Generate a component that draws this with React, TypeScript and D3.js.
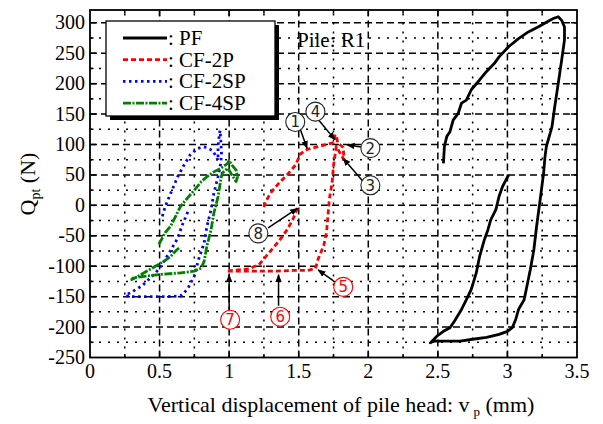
import React from 'react';
import * as d3 from 'd3';

const W = 603;
const H = 424;

// ---- data ----
const xTicks = [0, 0.5, 1, 1.5, 2, 2.5, 3, 3.5];
const xTickLabels = ['0', '0.5', '1', '1.5', '2', '2.5', '3', '3.5'];
const yTicks = [300, 250, 200, 150, 100, 50, 0, -50, -100, -150, -200, -250];

const seriesNames = ['PF', 'CF-2P', 'CF-2SP', 'CF-4SP'];

const pfData: [number, number][] = [
  [2.54, 69], [2.547, 97], [2.564, 113], [2.587, 121], [2.61, 140], [2.646, 151], [2.67, 168],
  [2.705, 173], [2.74, 190], [2.8, 206], [2.85, 220], [2.905, 233], [2.94, 244], [3.01, 261],
  [3.08, 274], [3.15, 285], [3.22, 293], [3.29, 302], [3.33, 307], [3.365, 310], [3.39, 304],
  [3.41, 293], [3.41, 272], [3.4, 255], [3.39, 239], [3.365, 200], [3.34, 162], [3.32, 129],
  [3.28, 97], [3.27, 80], [3.26, 53], [3.235, 9], [3.21, -34], [3.19, -73], [3.165, -105],
  [3.14, -133], [3.12, -155], [3.08, -171], [3.06, -187], [3.035, -201], [3.0, -207],
  [2.94, -212], [2.85, -217], [2.75, -220], [2.66, -223], [2.56, -223], [2.47, -223],
  [2.446, -226], [2.493, -215], [2.54, -207], [2.587, -201], [2.62, -190], [2.67, -171],
  [2.705, -155], [2.74, -138], [2.776, -111], [2.8, -84], [2.835, -56], [2.86, -40],
  [2.88, -24], [2.917, -7], [2.94, 15], [2.965, 31], [2.99, 42], [3.01, 50],
];

const cf2pData: [number, number][] = [
  [1.25, -3], [1.26, 5], [1.3, 21], [1.36, 37], [1.42, 51], [1.48, 67], [1.51, 84], [1.56, 92],
  [1.63, 96], [1.7, 100], [1.75, 103], [1.76, 114], [1.77, 116], [1.78, 103], [1.82, 95],
  [1.825, 75], [1.77, 97], [1.75, 65], [1.74, 37], [1.72, 10], [1.71, -17], [1.7, -44],
  [1.68, -66], [1.64, -88], [1.62, -104], [1.56, -107], [1.46, -107], [1.34, -108],
  [1.22, -108], [1.08, -108], [0.98, -108], [1.15, -104], [1.22, -96], [1.29, -77],
  [1.36, -58], [1.42, -39], [1.46, -22], [1.48, -11], [1.5, 0],
];

const cf2spData: [number, number][] = [
  [0.52, -18], [0.54, -2], [0.58, 20], [0.63, 47], [0.675, 66], [0.72, 83], [0.77, 93],
  [0.81, 96], [0.84, 95], [0.88, 90], [0.9, 83], [0.92, 74], [0.92, 96], [0.93, 118],
  [0.935, 123], [0.94, 107], [0.945, 85], [0.94, 69], [0.92, 47], [0.89, 20], [0.87, -7],
  [0.84, -35], [0.82, -62], [0.78, -89], [0.75, -116], [0.7, -138], [0.65, -149],
  [0.555, -150], [0.46, -150], [0.36, -150], [0.28, -150], [0.255, -148], [0.31, -141],
  [0.375, -132], [0.435, -119], [0.495, -105], [0.54, -89], [0.59, -70], [0.63, -54],
  [0.66, -34], [0.695, -15], [0.71, -7],
];

const cf4spData: [number, number][] = [
  [0.495, -64], [0.54, -45], [0.58, -34], [0.615, -18], [0.65, -2], [0.7, 12], [0.75, 25],
  [0.8, 39], [0.84, 47], [0.89, 55], [0.94, 61], [0.99, 69], [1.0, 74], [1.02, 66],
  [1.05, 58], [1.06, 47], [1.05, 39], [0.99, 61], [0.95, 53], [0.94, 42], [0.92, 14],
  [0.89, -13], [0.87, -40], [0.84, -67], [0.82, -92], [0.8, -103], [0.75, -108],
  [0.65, -111], [0.53, -113], [0.41, -116], [0.31, -119], [0.3, -122], [0.35, -116],
  [0.41, -108], [0.47, -100], [0.53, -92], [0.58, -84], [0.615, -75], [0.64, -70],
];

// annotations: label, label position, arrow from, arrow to, colour key
const annLabels = ['1', '4', '2', '3', '8', '5', '7', '6'];
const annLabelPos: [number, number][] = [
  [1.475, 137], [1.62, 154], [2.015, 94], [2.015, 33], [1.21, -46], [1.82, -134], [1.007, -188], [1.367, -183],
];
const annArrowFrom: [number, number][] = [
  [1.51, 126], [1.64, 141], [1.95, 96], [1.96, 40], [1.28, -37], [1.75, -124], [1.0, -171], [1.355, -165],
];
const annArrowTo: [number, number][] = [
  [1.56, 94], [1.76, 108], [1.85, 99], [1.82, 77], [1.49, -5], [1.64, -106], [1.0, -114], [1.355, -114],
];
const annRed = [false, false, false, false, false, true, true, true];

// ---- layout ----
const x = d3.scaleLinear().domain([0, 3.5]).range([90, 577]);
const y = d3.scaleLinear().domain([-250, 321]).range([357.5, 10]);

const SERIF = '"Liberation Serif", "Times New Roman", Times, serif';
const SANS = '"DejaVu Sans", "Noto Sans", sans-serif';

export default function App() {
  const line = d3.line<[number, number]>().x(d => x(d[0])).y(d => y(d[1]));
  const [x0, x1] = x.range();
  const [y0, y1] = y.range();

  const majorX = d3.range(0.5, 3.5, 0.5);
  const minorX = d3.range(0.25, 3.5, 0.5);
  const majorY = d3.range(-200, 301, 50);
  const minorY = d3.range(-225, 321, 50);

  const seriesData = [pfData, cf2pData, cf2spData, cf4spData];
  const seriesStyle = [
    { stroke: '#000', dash: undefined as string | undefined, w: 2.8 },
    { stroke: '#ff0000', dash: '5,3', w: 2.8 },
    { stroke: '#0000ff', dash: '2.5,3.5', w: 2.8 },
    { stroke: '#008000', dash: '8,1.5,2,1.5', w: 2.8 },
  ];
  const ts = { fontFamily: SERIF };

  return (
    <svg width={W} height={H} style={{ position: 'absolute', left: 0, top: 0, background: '#fff' }}>
      <defs>
        <marker id="ah" viewBox="0 0 10 10" refX="9" refY="5" markerWidth="8" markerHeight="8"
          orient="auto" markerUnits="userSpaceOnUse">
          <path d="M0,1 L10,5 L0,9 z" fill="#000" />
        </marker>
      </defs>
      <rect x={0} y={0} width={W} height={H} fill="#fff" />
      {/* grid */}
      <g stroke="#000" strokeWidth={1.5} fill="none">
        {minorX.map(v => <line key={'mx' + v} x1={x(v)} x2={x(v)} y1={y0} y2={y1} strokeDasharray="2,7" />)}
        {minorY.map(v => <line key={'my' + v} x1={x0} x2={x1} y1={y(v)} y2={y(v)} strokeDasharray="2,7" />)}
        {majorX.map(v => <line key={'Mx' + v} x1={x(v)} x2={x(v)} y1={y0} y2={y1} strokeDasharray="7,4" />)}
        {majorY.map(v => <line key={'My' + v} x1={x0} x2={x1} y1={y(v)} y2={y(v)} strokeDasharray="7,4" />)}
      </g>
      {/* ticks */}
      <g stroke="#000" strokeWidth={1.5}>
        {d3.range(0.25, 3.5, 0.25).map(v => {
          const L = Math.abs(v * 2 - Math.round(v * 2)) < 1e-6 ? 6 : 3.5;
          return (
            <g key={'tx' + v}>
              <line x1={x(v)} x2={x(v)} y1={y0} y2={y0 - L} />
              <line x1={x(v)} x2={x(v)} y1={y1} y2={y1 + L} />
            </g>
          );
        })}
        {d3.range(-225, 321, 25).map(v => {
          const L = v % 50 === 0 ? 6 : 3.5;
          return (
            <g key={'ty' + v}>
              <line x1={x0} x2={x0 + L} y1={y(v)} y2={y(v)} />
              <line x1={x1} x2={x1 - L} y1={y(v)} y2={y(v)} />
            </g>
          );
        })}
      </g>

      {/* series */}
      <g fill="none" strokeLinejoin="round">
        {seriesData.map((d, i) => (
          <path key={seriesNames[i]} d={line(d) || ''} stroke={seriesStyle[i].stroke}
            strokeWidth={seriesStyle[i].w} strokeDasharray={seriesStyle[i].dash} />
        ))}
      </g>

      {/* frame */}
      <rect x={x0} y={y1} width={x1 - x0} height={y0 - y1} fill="none" stroke="#000" strokeWidth={1.8} />

      {/* tick labels */}
      <g fontSize={20} fill="#000">
        {xTicks.map((v, i) => (
          <text key={'xl' + v} style={ts} x={x(v)} y={y0 + 20} textAnchor="middle">{xTickLabels[i]}</text>
        ))}
        {yTicks.map(v => (
          <text key={'yl' + v} style={ts} x={x0 - 5} y={y(v) + 6.5} textAnchor="end">{v}</text>
        ))}
      </g>

      {/* axis titles */}
      <text style={ts} x={341} y={412} fontSize={22} textAnchor="middle">
        Vertical displacement of pile head: v<tspan fontSize={13} dx={4} dy={4}>p</tspan>
        <tspan dy={-4}> (mm)</tspan>
      </text>
      <text style={ts} transform="translate(35,184) rotate(-90)" fontSize={22} textAnchor="middle">
        Q<tspan fontSize={14} dy={5}>pt</tspan><tspan dy={-5}> (N)</tspan>
      </text>

      {/* legend */}
      <rect x={110} y={25} width={169} height={95} fill="#000" />
      <rect x={106} y={21} width={169} height={95} fill="#fff" stroke="#000" strokeWidth={1.3} />
      {seriesNames.map((n, i) => {
        const ry = 38 + i * 21.7;
        return (
          <g key={'lg' + n}>
            <line x1={123} x2={167} y1={ry} y2={ry} stroke={seriesStyle[i].stroke}
              strokeWidth={seriesStyle[i].w} strokeDasharray={seriesStyle[i].dash} />
            <text style={ts} x={168} y={ry + 7} fontSize={21}>: {n}</text>
          </g>
        );
      })}
      <text style={ts} x={297} y={47} fontSize={21}>Pile: R1</text>

      {/* annotations */}
      <g>
        {annLabels.map((t, i) => {
          const cx = x(annLabelPos[i][0]);
          const cy = y(annLabelPos[i][1]);
          const col = annRed[i] ? '#ff0000' : '#222';
          return (
            <g key={'an' + i}>
              <line x1={x(annArrowFrom[i][0])} y1={y(annArrowFrom[i][1])} x2={x(annArrowTo[i][0])}
                y2={y(annArrowTo[i][1])} stroke="#000" strokeWidth={1.5} markerEnd="url(#ah)" />
              <circle cx={cx} cy={cy} r={9.5} fill="#fff" stroke={col} strokeWidth={1.1} />
              <text x={cx} y={cy + 5.5} fontSize={15} style={{ fontFamily: SANS }} textAnchor="middle"
                fill={col}>{t}</text>
            </g>
          );
        })}
      </g>
    </svg>
  );
}
